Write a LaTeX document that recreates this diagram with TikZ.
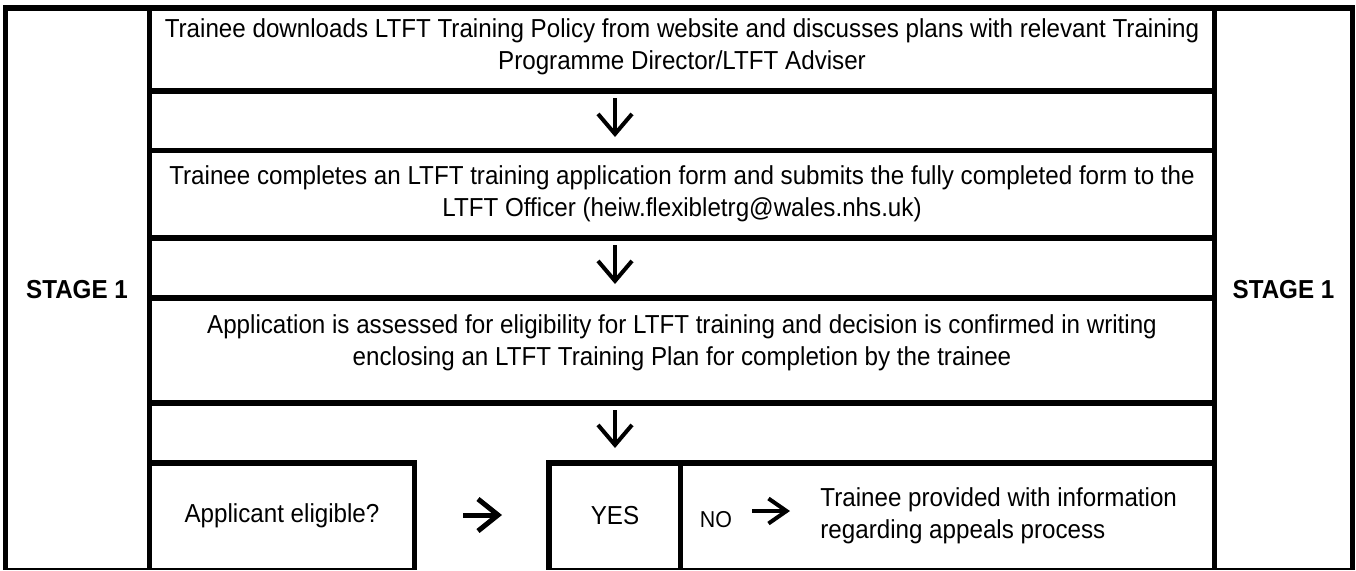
\documentclass[tikz,border=0pt]{standalone}
\usepackage{fontspec}
\setmainfont{Liberation Sans}[FakeStretch=0.93]
\usetikzlibrary{arrows.meta}
\usetikzlibrary{positioning}
\newcommand\rowfont{\fontsize{13}{16}\selectfont}
\tikzset{rule/.style={line width=2.75pt,line join=miter},
  downarr/.style={line width=2pt,-{Straight Barb[length=10pt,width=17pt]}},
  sidearr/.style={line width=2.5pt,-{Straight Barb[length=10pt,width=16pt]}}}

\begin{document}
\begin{tikzpicture}[x=0.5pt,y=-0.5pt]%
        \useasboundingbox (0,0) rectangle (1356,570);%
        \fill[white] (0,0) rectangle (1356,570);%
        %% table rules
        \draw[rule] (5.5,569) |- (1352.5,8) -- (1352.5,569); %%
        \draw[rule] (149.5,8) -- (149.5,569); %%
        \draw[rule] (1214.5,8) -- (1214.5,569); %%
        \foreach \y in {91,150.5,238,298,403}
          \draw[rule] (149.5,\y) -- (1214.5,\y); %%
        \draw[rule] (149.5,463) -- (414.5,463) -- (414.5,569); %%
        \draw[rule] (549,569) -- (549,463) -- (1214.5,463); %%
        \draw[rule] (680.5,463) -- (680.5,569); %%
        \draw[line width=1pt] (3,568.5) -- (417,568.5); %%
        \draw[line width=1pt] (546,568.5) -- (1355,568.5); %%
        %% texts
        \begin{scope}[inner sep=0pt]
        \tikzstyle{every node}=[font=\rowfont,align=center] %%
        \node[font=\fontsize{13}{15}\selectfont\bfseries] (stl) at (77,290) {STAGE 1}; %%
        \node[font=\fontsize{13}{15}\selectfont\bfseries] (str) at (1283.5,290) {STAGE 1}; %%
        \node[anchor=north] (s1) at (682,18) {Trainee downloads LTFT Training Policy from website and discusses plans with relevant Training\\Programme Director/LTFT Adviser}; %%
        \node[anchor=north] (s2) at (682,165) {Trainee completes an LTFT training application form and submits the fully completed form to the\\LTFT Officer (heiw.flexibletrg@wales.nhs.uk)}; %%
        \node[anchor=north] (s3) at (682,314) {Application is assessed for eligibility for LTFT training and decision is confirmed in writing\\enclosing an LTFT Training Plan for completion by the trainee}; %%
        \node (elig) at (282,516) {Applicant eligible?}; %%
        \node (yes) at (615,516) {YES}; %%
        \node[font=\fontsize{11.5}{13}\selectfont] (no) at (716,520) {NO}; %%
        \node[anchor=west,align=left] (appeal) at (820,516) {Trainee provided with information\\regarding appeals process}; %%
        \end{scope}
        %% arrows
        \coordinate (a1) at (615,98); \coordinate (b1) at (615,137); %%
        \coordinate (a2) at (615,245); \coordinate (b2) at (615,284); %%
        \coordinate (a3) at (615,410); \coordinate (b3) at (615,448); %%
        \coordinate (g1) at (463,515); \coordinate (g2) at (502,515); %%
        \coordinate (n1) at (752,511); \coordinate (n2) at (790,511); %%
        \draw[downarr] (a1)--(b1); %%
        \draw[downarr] (a2)--(b2); %%
        \draw[downarr] (a3)--(b3); %%
        \draw[sidearr] (g1)--(g2); %%
        \draw[downarr,-{Straight Barb[length=9pt,width=12.5pt]}] (n1)--(n2); %%
\end{tikzpicture}
\end{document}
